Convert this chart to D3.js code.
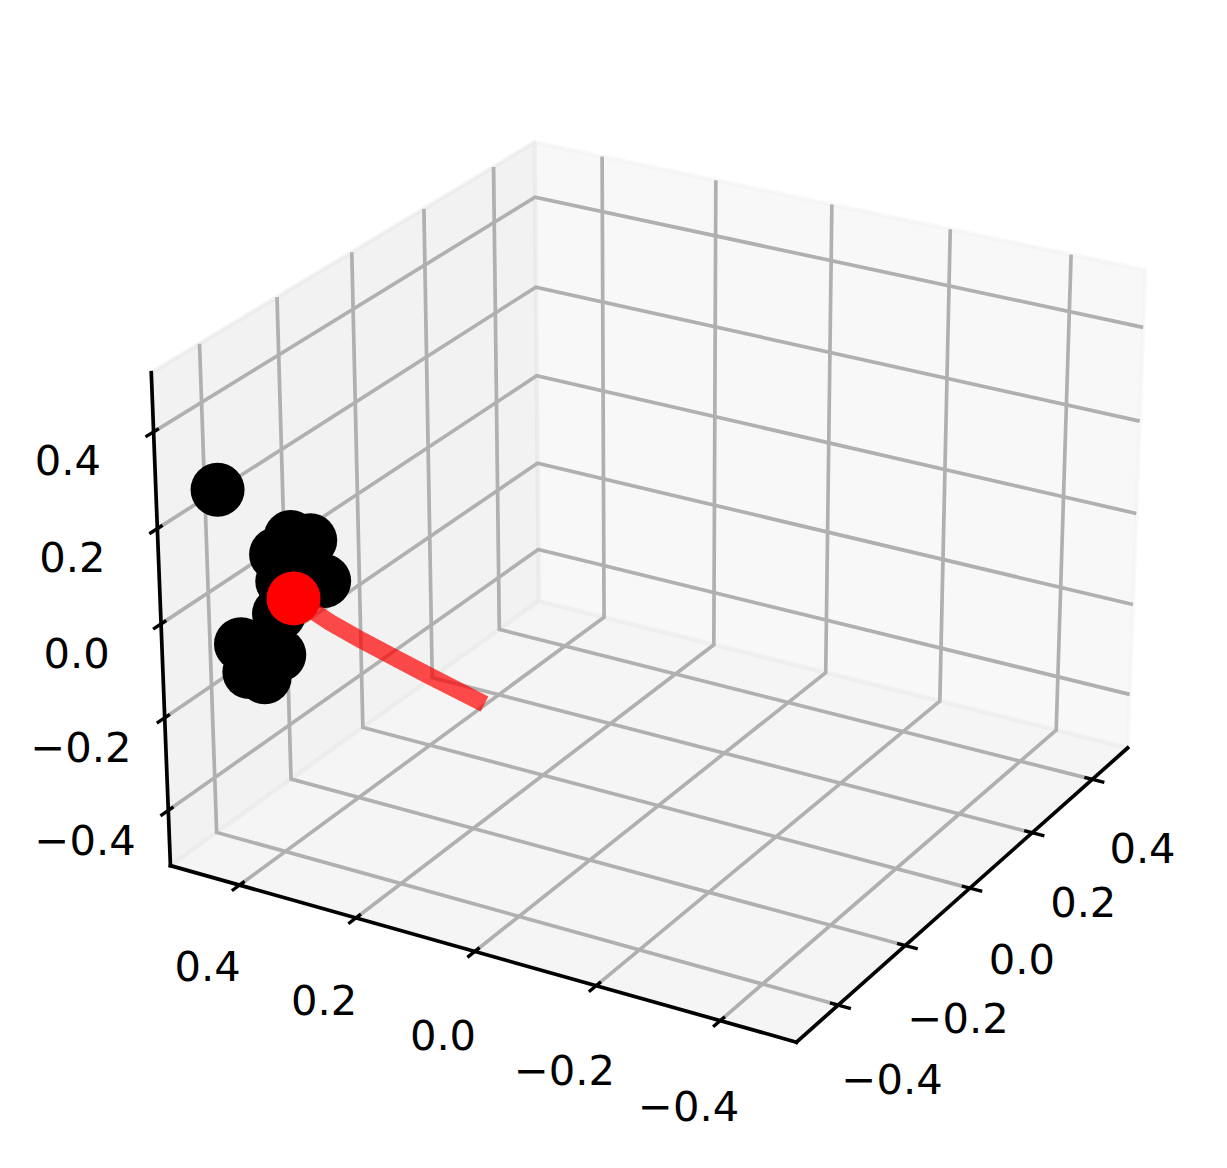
<!DOCTYPE html>
<html><head><meta charset="utf-8">
<script src="https://cdn.jsdelivr.net/npm/d3@7"></script>
<style>html,body{margin:0;background:#fff}svg{display:block}text{font-family:"DejaVu Sans";font-size:41.67px;fill:#000}</style>
</head><body><div id="c"></div>
<script>
// ---- data ----
const tickValues = [-0.4,-0.2,0,0.2,0.4];
const blackX = [-0.470,-0.288,-0.237,-0.327,-0.203,-0.313,-0.324,-0.424,-0.3265,-0.405,-0.366,-0.368,-0.279];
const blackY = [0.45,0.45,0.45,0.45,0.45,0.45,0.45,0.45,0.45,0.45,0.45,0.45,0.45];
const blackZ = [0.2755,0.0805,0.0465,0.0645,-0.0595,-0.0005,-0.0645,-0.074,-0.1515,-0.1445,-0.1775,-0.1135,0.0345];
const redPoint = [-0.285,0.45,-0.0525];
const trailX = [-0.285,-0.227,-0.180,-0.166,-0.140,-0.063];
const trailY = [0.45,0.425,0.40,0.35,0.31,0.2625];
const trailZ = [-0.0525,-0.1288,-0.1865,-0.2175,-0.2565,-0.3465];

// ---- view ----
const W=1227,H=1168;
const elev=25*Math.PI/180, azim=210*Math.PI/180, dist=10;
const lim=0.5208, Rxy=0.5952, Rz=0.4464;
const sx=d3.scaleLinear().domain([-lim,lim]).range([-Rxy,Rxy]);
const sy=d3.scaleLinear().domain([-lim,lim]).range([-Rxy,Rxy]);
const sz=d3.scaleLinear().domain([-lim,lim]).range([-Rz,Rz]);
const w=[Math.cos(elev)*Math.cos(azim),Math.cos(elev)*Math.sin(azim),Math.sin(elev)];
const un=Math.hypot(w[1],w[0]);
const u=[-w[1]/un,w[0]/un,0];
const v=[w[1]*u[2]-w[2]*u[1],w[2]*u[0]-w[0]*u[2],w[0]*u[1]-w[1]*u[0]];
const dot=(a,b)=>a[0]*b[0]+a[1]*b[1]+a[2]*b[2];
const px=d3.scaleLinear().domain([0,1]).range([658.3,658.3+5995]);
const py=d3.scaleLinear().domain([0,1]).range([567.6,567.6-5995]);
function projQ(q){const d=dist-dot(w,q);return [px(dot(u,q)/d),py(dot(v,q)/d)];}
const proj=(x,y,z)=>projQ([sx(x),sy(y),sz(z)]);
const projOff=(x,y,z,o)=>projQ([sx(x)+o[0],sy(y)+o[1],sz(z)+o[2]]);

const svg=d3.select('#c').append('svg').attr('width',W).attr('height',H).attr('viewBox',[0,0,W,H]);
const L=lim, line=d3.line();

// panes
const panes=[
 {pts:[[L,-L,-L],[L,L,-L],[L,L,L],[L,-L,L]],c:'rgba(242,242,242,0.5)'},
 {pts:[[-L,L,-L],[L,L,-L],[L,L,L],[-L,L,L]],c:'rgba(230,230,230,0.5)'},
 {pts:[[-L,-L,-L],[L,-L,-L],[L,L,-L],[-L,L,-L]],c:'rgba(236,236,236,0.5)'}];
svg.append('g').selectAll('path').data(panes).join('path')
 .attr('d',d=>line(d.pts.map(p=>proj(...p)))+'Z')
 .attr('fill',d=>d.c).attr('stroke',d=>d.c).attr('stroke-width',4.17).attr('stroke-linejoin','round');

// grid
const grid=svg.append('g').attr('fill','none').attr('stroke','#b0b0b0').attr('stroke-width',3.7);
tickValues.forEach(t=>{
 grid.append('path').attr('d',line([proj(t,-L,-L),proj(t,L,-L),proj(t,L,L)]));
 grid.append('path').attr('d',line([proj(-L,t,-L),proj(L,t,-L),proj(L,t,L)]));
 grid.append('path').attr('d',line([proj(-L,L,t),proj(L,L,t),proj(L,-L,t)]));
});

// axes
const ax=svg.append('g').attr('fill','none').attr('stroke','#000').attr('stroke-width',3.7).attr('stroke-linecap','square');
ax.append('path').attr('d',line([proj(-L,-L,-L),proj(L,-L,-L)]));
ax.append('path').attr('d',line([proj(-L,-L,-L),proj(-L,L,-L)]));
ax.append('path').attr('d',line([proj(-L,L,-L),proj(-L,L,L)]));

// ticks
const tk=svg.append('g').attr('fill','none').attr('stroke','#000').attr('stroke-width',3.33);
const tOut=0.023,tIn=0.015;
tickValues.forEach(t=>{
 tk.append('path').attr('d',line([projOff(t,-L,-L,[0,-tOut,0]),projOff(t,-L,-L,[0,tIn,0])]));
 tk.append('path').attr('d',line([projOff(-L,t,-L,[-tOut,0,0]),projOff(-L,t,-L,[tIn,0,0])]));
 tk.append('path').attr('d',line([projOff(-L,L,t,[-tOut,0,0]),projOff(-L,L,t,[tIn,0,0])]));
});

// tick labels
const fmt=d3.format('.1f');
const lb=svg.append('g').attr('text-anchor','middle');
const kH=0.0975,kV=0.106;
function label(p,t,dx,dy){lb.append('text').attr('x',p[0]+dx).attr('y',p[1]+dy).attr('dy','0.37em').text(fmt(t).replace('-','\u2212'));}
tickValues.forEach(t=>{
 label(projOff(t,-L,-L,[0,-kH,-kV]),t,1,0);
 label(projOff(-L,t,-L,[-kH,0,-kV]),t,-1,0);
 label(projOff(-L,L,t,[-kH,kH,0]),t,-1,19);
});

// data
const r=27;
svg.append('g').selectAll('circle').data(blackX.map((x,i)=>proj(x,blackY[i],blackZ[i]))).join('circle')
 .attr('cx',d=>d[0]).attr('cy',d=>d[1]).attr('r',r).attr('fill','#000');
svg.append('path').attr('d',line(trailX.map((x,i)=>proj(x,trailY[i],trailZ[i]))))
 .attr('fill','none').attr('stroke','#f00').attr('stroke-opacity',0.7).attr('stroke-width',17).attr('stroke-linejoin','round');
const rp=proj(...redPoint);
svg.append('circle').attr('cx',rp[0]).attr('cy',rp[1]).attr('r',r).attr('fill','#f00');
</script></body></html>
